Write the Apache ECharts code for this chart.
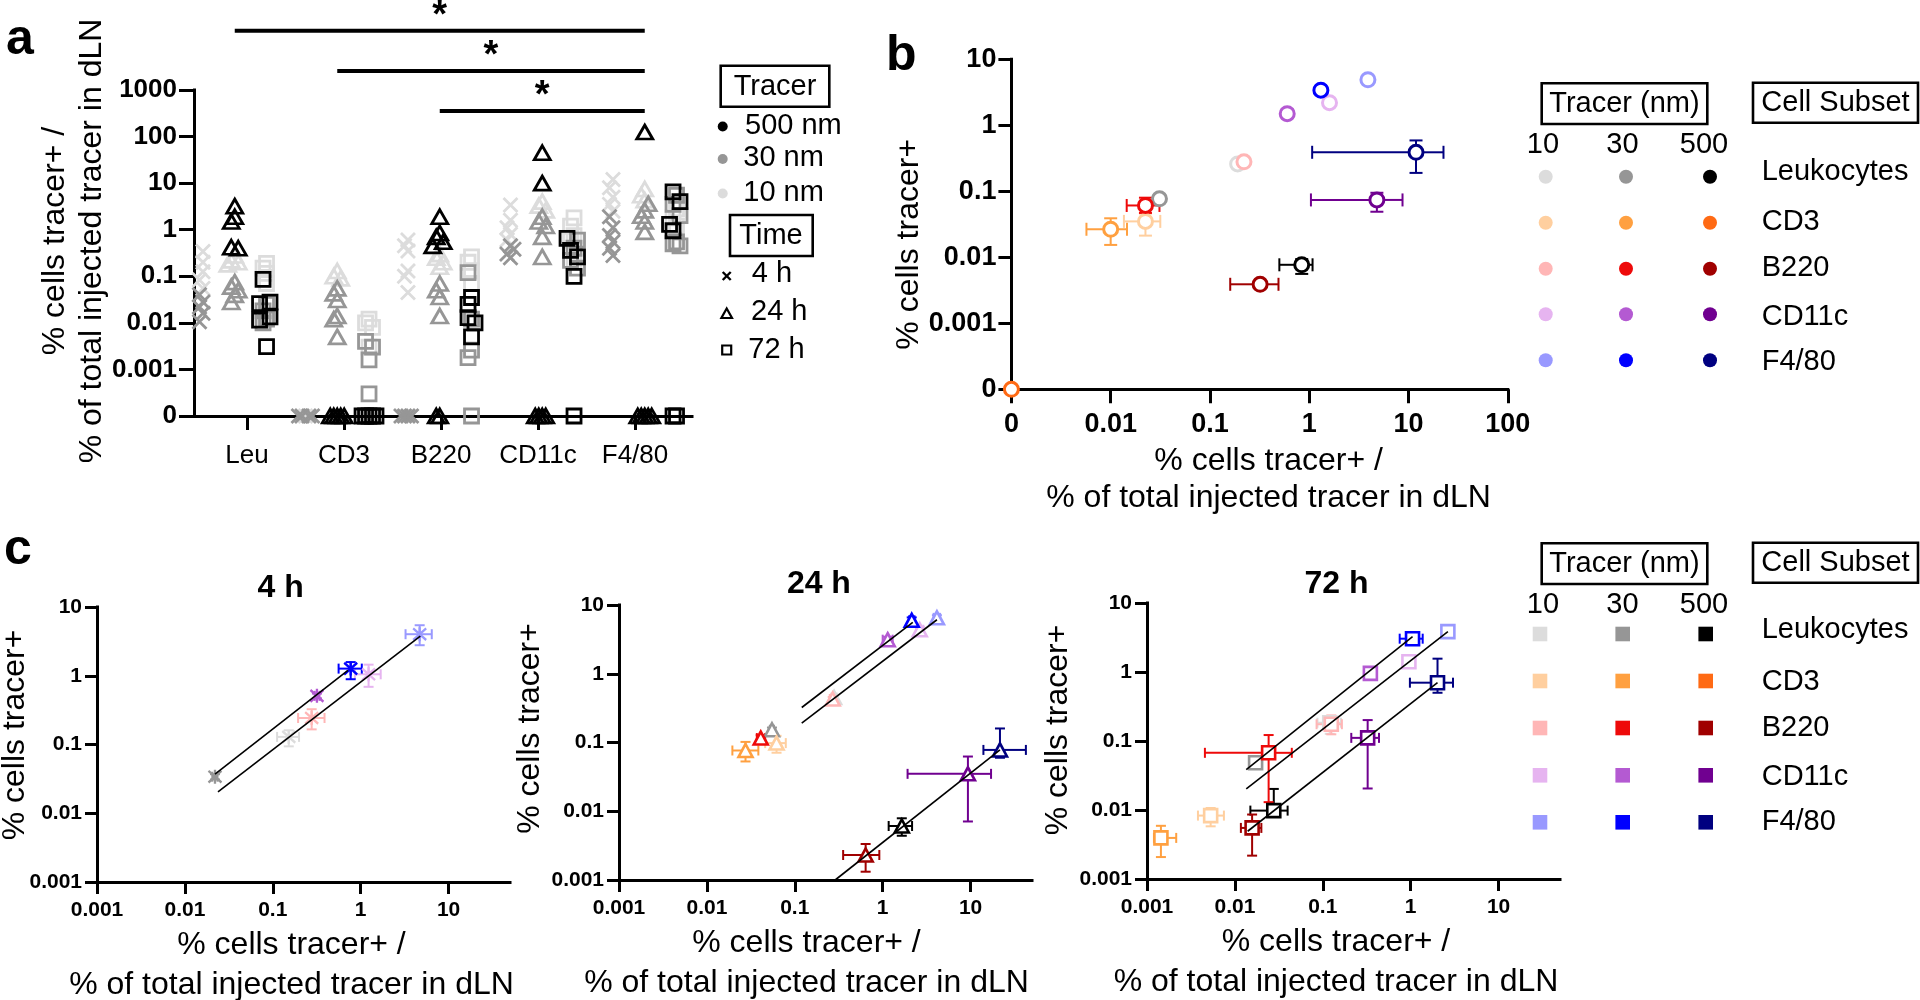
<!DOCTYPE html>
<html><head><meta charset="utf-8">
<script src="https://cdn.jsdelivr.net/npm/echarts@6/dist/echarts.min.js"></script>
<style>html,body{margin:0;padding:0;background:#fff}#chart{width:1920px;height:1000px}</style>
</head><body><div id="chart"></div>
<script>
const FONT = '"Liberation Sans", Arial, Helvetica, sans-serif';

// ---------------- categories / labels ----------------
const subsets = ['Leukocytes', 'CD3', 'B220', 'CD11c', 'F4/80'];
const subsetShort = ['Leu', 'CD3', 'B220', 'CD11c', 'F4/80'];
const tracerSizes = ['10', '30', '500'];
const timeLabels = ['4 h', '24 h', '72 h'];
const legendATracer = ['500 nm', '30 nm', '10 nm'];
const subsetColors = [
  ['#dcdcdc', '#969696', '#000000'],
  ['#ffcf9f', '#ffa040', '#ff6a14'],
  ['#ffb6b6', '#ee0a0a', '#a00000'],
  ['#e6b4f0', '#b45ad2', '#700090'],
  ['#9999ff', '#0000ff', '#000080']
];
const aTracerColors = ['#dcdcdc', '#969696', '#000000']; // 10, 30, 500 nm

// tick labels
const aYTicks = [1e-4, 0.001, 0.01, 0.1, 1, 10, 100, 1000];
const bXTicks = [0.001, 0.01, 0.1, 1, 10, 100];
const bYTicks = [1e-4, 0.001, 0.01, 0.1, 1, 10];
const cTicks = [0.001, 0.01, 0.1, 1, 10];
const A_ZERO = 1e-4, B_XZERO = 0.001, B_YZERO = 1e-4;

// ---------------- panel a: per subset lists (0 = not detected) ----------------
const a4h_10nm   = [[0.34, 0.2, 0.125, 0.083, 0.055], [0], [0.6, 0.45, 0.35, 0.13, 0.1, 0.045], [3.4, 1.6, 1.1, 0.8, 0.6], [12, 8, 5, 3.5, 2.5]];
const a4h_30nm   = [[0.04, 0.028, 0.022, 0.016, 0.0106], [0, 0, 0, 0], [0, 0, 0, 0], [0.45, 0.38, 0.3, 0.25], [1.9, 1.1, 0.75, 0.55, 0.4, 0.28]];
const a4h_500nm  = [[], [], [], [], []];
const a24h_10nm  = [[0.28, 0.22, 0.2, 0.18], [0.13, 0.1, 0.09], [0.3, 0.25, 0.2, 0.16], [4, 3.3, 2.6], [7.5, 5.5, 4.3]];
const a24h_30nm  = [[0.075, 0.06, 0.05, 0.04, 0.028], [0.055, 0.043, 0.031, 0.014, 0.012, 0.005], [0.07, 0.05, 0.036, 0.014], [1.9, 1.5, 1.2, 0.7, 0.26], [3.6, 2.6, 2.0, 1.5, 0.9]];
const a24h_500nm = [[3.2, 1.9, 1.5, 0.42, 0.4], [0, 0, 0, 0, 0], [1.9, 0.85, 0.7, 0.55, 0.45, 0, 0], [45, 10, 0, 0, 0, 0], [125, 0, 0, 0, 0, 0]];
const a72h_10nm  = [[0.19, 0.15, 0.115, 0.07], [0.012, 0.01, 0.008, 0.003], [0.26, 0.2, 0.13, 0.07], [1.8, 1.2, 0.75, 0.6, 0.2], [2.8, 1.8, 1.2]];
const a72h_30nm  = [[0.025, 0.018, 0.012, 0.01], [0.004, 0.003, 0.0016, 0.0003], [0.12, 0.012, 0.0026, 0.0018, 0], [0.6, 0.4, 0.22, 0.15], [5.5, 3.5, 2, 0.55, 0.5, 0.45]];
const a72h_500nm = [[0.086, 0.028, 0.026, 0.0135, 0.0115, 0.0031], [0, 0, 0, 0, 0], [0.035, 0.025, 0.013, 0.01, 0.005], [0.65, 0.36, 0.26, 0.1, 0], [6.5, 4, 1.3, 0.95, 0, 0]];
const aSignif = [['Leu', 'F4/80', '*'], ['CD3', 'F4/80', '*'], ['B220', 'F4/80', '*']];

// ---------------- panel b: rows = 10, 30, 500 nm: [x, y, xlo, xhi, ylo, yhi] ----------------
const b_Leukocytes = [[0.19, 0.26, 0.175, 0.205, 0.235, 0.285], [0.031, 0.077, 0.029, 0.033, 0.07, 0.085], [0.84, 0.0077, 0.5, 1.08, 0.0056, 0.0094]];
const b_CD3        = [[0.0224, 0.035, 0.0136, 0.0316, 0.0213, 0.046], [0.01, 0.0266, 0.0057, 0.0146, 0.0154, 0.039], [0, 0, 0, 0, 0, 0]];
const b_B220       = [[0.22, 0.28, 0.205, 0.235, 0.255, 0.305], [0.0224, 0.061, 0.0145, 0.031, 0.047, 0.08], [0.32, 0.0039, 0.16, 0.49, 0.0035, 0.0044]];
const b_CD11c      = [[1.6, 2.2, 1.5, 1.7, 1.95, 2.5], [0.6, 1.5, 0.55, 0.65, 1.3, 1.75], [4.8, 0.074, 1.04, 8.7, 0.049, 0.095]];
const b_F480       = [[3.9, 4.9, 3.7, 4.1, 4.4, 5.4], [1.31, 3.4, 1.22, 1.4, 3.0, 3.9], [11.9, 0.39, 1.07, 22.5, 0.19, 0.59]];

// ---------------- panel c ----------------
const c4h_Leukocytes = [[0.152, 0.129, 0.112, 0.199, 0.094, 0.161], [0.022, 0.034, 0.0205, 0.0235, 0.031, 0.037], null];
const c4h_CD3        = [null, null, null];
const c4h_B220       = [[0.277, 0.243, 0.194, 0.388, 0.166, 0.326], null, null];
const c4h_CD11c      = [[1.23, 1.05, 0.86, 1.69, 0.69, 1.45], [0.318, 0.51, 0.3, 0.34, 0.47, 0.55], null];
const c4h_F480       = [[4.69, 4.02, 3.24, 6.44, 2.78, 5.43], [0.77, 1.27, 0.561, 1.03, 0.89, 1.58], null];
const c4h_fits       = [[[0.022, 0.037], [0.716, 1.2]], [[0.0238, 0.0204], [4.77, 3.76]]];

const c24h_Leukocytes = [[0.28, 0.45, 0.26, 0.3, 0.42, 0.48], [0.055, 0.153, 0.052, 0.058, 0.14, 0.165], [1.65, 0.0061, 1.17, 2.16, 0.0044, 0.0079]];
const c24h_CD3        = [[0.062, 0.098, 0.046, 0.079, 0.071, 0.125], [0.0275, 0.0765, 0.0195, 0.0385, 0.053, 0.102], null];
const c24h_B220       = [[0.27, 0.43, 0.25, 0.29, 0.4, 0.46], [0.041, 0.116, 0.037, 0.046, 0.105, 0.128], [0.64, 0.00231, 0.355, 0.916, 0.00132, 0.00334]];
const c24h_CD11c      = [[2.64, 4.37, 2.4, 2.9, 4.0, 4.8], [1.14, 3.13, 1.0, 1.3, 2.85, 3.45], [9.33, 0.035, 1.92, 17.1, 0.0071, 0.0625]];
const c24h_F480       = [[4.14, 6.5, 3.8, 4.5, 5.9, 7.1], [2.14, 5.98, 2.0, 2.3, 5.4, 6.6], [21.6, 0.078, 14.0, 42.6, 0.06, 0.16]];
const c24h_fits       = [[[0.12, 0.323], [2.2, 5.6]], [[0.12, 0.191], [4.14, 6.1]], [[0.288, 0.001], [21.6, 0.078]]];

const c72h_Leukocytes = [[0.12, 0.184, 0.087, 0.161, 0.127, 0.23], [0.0172, 0.0483, 0.016, 0.0185, 0.044, 0.053], [0.0277, 0.0098, 0.015, 0.0398, 0.0098, 0.0202]];
const c72h_CD3        = [[0.0053, 0.0083, 0.0038, 0.0075, 0.0058, 0.0107], [0.00144, 0.00394, 0.0012, 0.00215, 0.00208, 0.0059], null];
const c72h_B220       = [[0.125, 0.175, 0.085, 0.165, 0.125, 0.235], [0.0242, 0.0674, 0.00456, 0.0444, 0.013, 0.122], [0.0157, 0.0055, 0.0117, 0.02, 0.00218, 0.0086]];
const c72h_CD11c      = [[0.955, 1.41, 0.9, 1.02, 1.3, 1.55], [0.348, 0.955, 0.32, 0.38, 0.88, 1.05], [0.324, 0.111, 0.211, 0.436, 0.0205, 0.201]];
const c72h_F480       = [[2.65, 3.85, 2.45, 2.9, 3.5, 4.2], [1.05, 3.04, 0.75, 1.37, 2.5, 3.6], [2.02, 0.7, 0.98, 3.03, 0.5, 1.56]];
const c72h_fits       = [[[0.01347, 0.0386], [1.05, 3.25]], [[0.01347, 0.0202], [2.65, 3.85]], [[0.01397, 0.00492], [2.02, 0.7]]];

// ---------------- helpers ----------------
const P_X = 'path://M0,0L10,10M10,0L0,10';
const P_AST = 'path://M1,1L11,11M11,1L1,11M6,0L6,12';

function fmtTick(v, zeroVal) {
  if (zeroVal && Math.abs(v - zeroVal) < zeroVal * 1e-6) return '0';
  return String(+Number(v).toPrecision(6));
}
function logAxis(gridIndex, min, max, ticks, zeroVal, fontSize, margin, tickLen, extra) {
  return Object.assign({
    type: 'log', logBase: 10, gridIndex, min, max, nameMoveOverlap: false,
    axisLine: {show: true, onZero: false, lineStyle: {color: '#000', width: 3, cap: 'square'}},
    axisTick: {show: true, inside: false, length: tickLen, lineStyle: {color: '#000', width: 3}, customValues: ticks},
    axisLabel: {show: true, customValues: ticks, margin, color: '#000', fontSize, fontWeight: 'bold', fontFamily: FONT,
      formatter: v => fmtTick(v, zeroVal)},
    splitLine: {show: false}, minorTick: {show: false}, minorSplitLine: {show: false},
    nameTextStyle: {color: '#000', fontFamily: FONT, fontSize: 32}
  }, extra || {});
}

// ---- panel a points with simple beeswarm spreading ----
const aTimeData = [[a4h_10nm, a4h_30nm, a4h_500nm], [a24h_10nm, a24h_30nm, a24h_500nm], [a72h_10nm, a72h_30nm, a72h_500nm]];
const aTimeSymbols = [P_X, 'triangle', 'rect'];
const aTimeSizes = [[14, 14], [16, 14], [14, 14]];
const A_TIME_STEP = 0.31;   // spacing of time groups in category units
const A_JIT = 0.034;        // beeswarm step in category units
const placed = {};
const aSeries = [];
for (let t = 0; t < 3; t++) {
  for (let k = 0; k < 3; k++) {
    const data = [];
    for (let c = 0; c < 5; c++) {
      const key = c + '-' + t;
      const list = placed[key] || (placed[key] = []);
      for (const v of aTimeData[t][k][c]) {
        const ly = v === 0 ? Math.log10(A_ZERO) : Math.log10(v);
        let off = 0;
        for (let n = 0; n < 20; n++) {
          const cand = n === 0 ? 0 : (n % 2 ? -Math.ceil(n / 2) : Math.ceil(n / 2));
          if (!list.some(p => Math.abs(p.ly - ly) < 0.2 && p.o === cand)) { off = cand; break; }
        }
        list.push({ly, o: off});
        data.push([c + (t - 1) * A_TIME_STEP + off * A_JIT, v === 0 ? A_ZERO : v]);
      }
    }
    aSeries.push({
      type: 'scatter', xAxisIndex: 0, yAxisIndex: 0, data, silent: true,
      symbol: aTimeSymbols[t], symbolSize: aTimeSizes[t], z: 3 + t * 3 + k,
      itemStyle: {color: 'none', borderColor: aTracerColors[k], borderWidth: 2.8, opacity: 1}
    });
  }
}

// ---- panels b / c ----
function buildPanel(rowsBySubset, xz, yz) {
  const pts = [], errs = [];
  rowsBySubset.forEach((rows, s) => {
    rows.forEach((r, k) => {
      if (!r) return;
      const fx = v => (v === 0 ? xz : v), fy = v => (v === 0 ? yz : v);
      const x = fx(r[0]), y = fy(r[1]);
      pts.push({value: [x, y], itemStyle: {borderColor: subsetColors[s][k]}});
      errs.push([x, y, fx(r[2]), fx(r[3]), fy(r[4]), fy(r[5]), s, k]);
    });
  });
  return {pts, errs};
}
function makeErrRender(cap, lw) {
  return function (params, api) {
    const x = api.value(0), y = api.value(1);
    const xlo = api.value(2), xhi = api.value(3), ylo = api.value(4), yhi = api.value(5);
    const col = subsetColors[api.value(6)][api.value(7)];
    const p = api.coord([x, y]);
    const ch = [];
    const seg = (x1, y1, x2, y2) => ch.push({type: 'line', shape: {x1, y1, x2, y2}, style: {stroke: col, lineWidth: lw}});
    if (xlo < x) { const q = api.coord([xlo, y]); seg(q[0], p[1], p[0], p[1]); seg(q[0], p[1] - cap, q[0], p[1] + cap); }
    if (xhi > x) { const q = api.coord([xhi, y]); seg(p[0], p[1], q[0], p[1]); seg(q[0], p[1] - cap, q[0], p[1] + cap); }
    if (ylo < y) { const q = api.coord([x, ylo]); seg(p[0], p[1], p[0], q[1]); seg(p[0] - cap, q[1], p[0] + cap, q[1]); }
    if (yhi > y) { const q = api.coord([x, yhi]); seg(p[0], p[1], p[0], q[1]); seg(p[0] - cap, q[1], p[0] + cap, q[1]); }
    return {type: 'group', children: ch};
  };
}
function panelSeries(axisIdx, built, symbol, size, bw, cap, fill) {
  return [
    {type: 'custom', xAxisIndex: axisIdx, yAxisIndex: axisIdx, data: built.errs, renderItem: makeErrRender(cap, 2),
      encode: {x: 0, y: 1}, silent: true, z: 2, clip: false},
    {type: 'scatter', xAxisIndex: axisIdx, yAxisIndex: axisIdx, data: built.pts, symbol, symbolSize: size, silent: true, z: 3,
      itemStyle: {color: fill, borderWidth: bw, opacity: 1}}
  ];
}
function fitSeries(axisIdx, fits) {
  return fits.map(f => ({type: 'line', xAxisIndex: axisIdx, yAxisIndex: axisIdx, data: f, symbol: 'none', silent: true, z: 5,
    lineStyle: {color: '#000', width: 1.6}}));
}

const bBuilt = buildPanel([b_Leukocytes, b_CD3, b_B220, b_CD11c, b_F480], B_XZERO, B_YZERO);
const c4Built = buildPanel([c4h_Leukocytes, c4h_CD3, c4h_B220, c4h_CD11c, c4h_F480]);
const c24Built = buildPanel([c24h_Leukocytes, c24h_CD3, c24h_B220, c24h_CD11c, c24h_F480]);
const c72Built = buildPanel([c72h_Leukocytes, c72h_CD3, c72h_B220, c72h_CD11c, c72h_F480]);

// significance bars (panel a)
const SIG_OFFSETS = [-59.3, -19, 21];
const sigSeries = {
  type: 'custom', xAxisIndex: 0, yAxisIndex: 0, silent: true, clip: false, z: 10,
  data: aSignif.map(d => [subsetShort.indexOf(d[0]), subsetShort.indexOf(d[1]), 1]),
  encode: {x: [0, 1], y: 2},
  renderItem: (params, api) => {
    const x1 = api.coord([api.value(0), 1])[0], x2 = api.coord([api.value(1), 1])[0];
    const y = params.coordSys.y + SIG_OFFSETS[params.dataIndex];
    return {type: 'group', children: [
      {type: 'line', shape: {x1, y1: y, x2, y2: y}, style: {stroke: '#000', lineWidth: 4}},
      {type: 'text', x: (x1 + x2) / 2, y: y - 14, style: {text: aSignif[params.dataIndex][2], fill: '#000',
        fontSize: 38, fontWeight: 'bold', fontFamily: FONT, align: 'center', verticalAlign: 'middle'}}
    ]};
  }
};

// ---------------- graphics (legends, panel letters, titles) ----------------
const G = [];
const txt = (x, y, text, size, align, weight) => G.push({type: 'text', x, y, silent: true,
  style: {text, fill: '#000', fontSize: size, fontWeight: weight || 'normal', fontFamily: FONT, align: align || 'left', verticalAlign: 'middle'}});
const box = (x, y, w, h) => G.push({type: 'rect', silent: true, shape: {x, y, width: w, height: h}, style: {fill: 'none', stroke: '#000', lineWidth: 2.6}});

txt(6, 40, 'a', 50, 'left', 'bold');
txt(886, 56, 'b', 50, 'left', 'bold');
txt(4, 550, 'c', 50, 'left', 'bold');

// panel a legend
box(720.7, 65.7, 108.6, 41); txt(775, 86.5, 'Tracer', 29, 'center');
const aLegY = [125.5, 158, 192.5];
legendATracer.forEach((t, i) => {
  G.push({type: 'circle', silent: true, shape: {cx: 722.7, cy: aLegY[i] + 1, r: 5}, style: {fill: ['#000', '#969696', '#dcdcdc'][i]}});
  txt(i === 0 ? 745 : 743.3, aLegY[i], t, 29);
});
box(730, 215, 82.7, 41); txt(771, 236, 'Time', 29, 'center');
const tLegY = [274, 311.5, 349.5], tLegX = [751.7, 751, 748.3];
G.push({type: 'polyline', silent: true, shape: {points: [[722.7, 272], [730.7, 280]]}, style: {stroke: '#000', lineWidth: 2.4}});
G.push({type: 'polyline', silent: true, shape: {points: [[730.7, 272], [722.7, 280]]}, style: {stroke: '#000', lineWidth: 2.4}});
G.push({type: 'polygon', silent: true, shape: {points: [[726.7, 308.5], [732, 318], [721.4, 318]]}, style: {fill: 'none', stroke: '#000', lineWidth: 2.2}});
G.push({type: 'rect', silent: true, shape: {x: 722.2, y: 345.5, width: 9, height: 9}, style: {fill: 'none', stroke: '#000', lineWidth: 2.2}});
timeLabels.forEach((t, i) => txt(tLegX[i], tLegY[i], t, 29));

// panel b / c legends
function colorLegend(top, square) {
  box(1541.7, top, 165.6, 40.7); txt(1624.5, top + 21, 'Tracer (nm)', 29, 'center');
  box(1753, top - 0.6, 165, 40); txt(1835.5, top + 20, 'Cell Subset', 29, 'center');
  const colLbl = [1543, 1622.5, 1704], colDot = square ? [1540, 1622.7, 1705.7] : [1545.7, 1626, 1710];
  const rowDot = square ? [634, 681, 728, 775.3, 822.3] : [176.7, 222.7, 268.7, 314.3, 360.3];
  const rowLbl = square ? [630, 681.7, 728, 776.7, 821.7] : [171.7, 221.7, 268, 316.7, 361.7];
  const lblY = square ? 605 : 145;
  tracerSizes.forEach((t, k) => txt(colLbl[k], lblY, t, 29, 'center'));
  subsets.forEach((s, si) => {
    txt(1761.7, rowLbl[si], s, 29);
    tracerSizes.forEach((t, k) => {
      if (square) G.push({type: 'rect', silent: true, shape: {x: colDot[k] - 7.3, y: rowDot[si] - 7.3, width: 14.6, height: 14.6}, style: {fill: subsetColors[si][k]}});
      else G.push({type: 'circle', silent: true, shape: {cx: colDot[k], cy: rowDot[si], r: 7}, style: {fill: subsetColors[si][k]}});
    });
  });
}
colorLegend(83.3, false);
colorLegend(543.3, true);

// panel c titles
txt(280.6, 588, timeLabels[0], 32, 'center', 'bold');
txt(818.9, 584, timeLabels[1], 32, 'center', 'bold');
txt(1336.5, 584, timeLabels[2], 32, 'center', 'bold');

// ---------------- option ----------------
const TITLE2 = '% cells tracer+ /\n% of total injected tracer in dLN';
const nameStyle = (pad, lh) => ({color: '#000', fontFamily: FONT, fontSize: 32, lineHeight: lh || 32, padding: pad || 0});

const option = {
  animation: false,
  backgroundColor: '#fff',
  textStyle: {fontFamily: FONT},
  grid: [
    {left: 194, top: 90, width: 498, height: 326, outerBoundsMode: 'none'},
    {left: 198.5, top: 90, width: 485, height: 326, outerBoundsMode: 'none'},
    {left: 1011.4, top: 59.3, width: 496.4, height: 330, outerBoundsMode: 'none'},
    {left: 97, top: 607, width: 413, height: 275, outerBoundsMode: 'none'},
    {left: 619, top: 605, width: 413, height: 275, outerBoundsMode: 'none'},
    {left: 1147, top: 603, width: 413, height: 276, outerBoundsMode: 'none'}
  ],
  xAxis: [
    {type: 'value', gridIndex: 0, min: -0.3976, max: 4.461,
      axisLine: {show: true, onZero: false, lineStyle: {color: '#000', width: 3, cap: 'square'}},
      axisTick: {show: false}, axisLabel: {show: false}, splitLine: {show: false}},
    {type: 'category', gridIndex: 1, data: subsetShort, boundaryGap: true,
      axisLine: {show: false}, axisTick: {show: true, alignWithLabel: true, length: 14, lineStyle: {color: '#000', width: 3}},
      axisLabel: {margin: 27, fontSize: 26, color: '#000', fontFamily: FONT, interval: 0}, splitLine: {show: false}},
    logAxis(2, 0.001, 100, bXTicks, B_XZERO, 27, 22, 14,
      {name: TITLE2, nameLocation: 'middle', nameGap: 53, nameTextStyle: nameStyle([0, 0, 0, 18], 37)}),
    logAxis(3, 0.001, 50, cTicks, null, 21, 18, 12,
      {name: TITLE2, nameLocation: 'middle', nameGap: 43, nameTextStyle: nameStyle([0, 24, 0, 0], 40)}),
    logAxis(4, 0.001, 50, cTicks, null, 21, 18, 12,
      {name: TITLE2, nameLocation: 'middle', nameGap: 43, nameTextStyle: nameStyle([0, 38, 0, 0], 40)}),
    logAxis(5, 0.001, 50, cTicks, null, 21, 18, 12,
      {name: TITLE2, nameLocation: 'middle', nameGap: 43, nameTextStyle: nameStyle([0, 35, 0, 0], 40)})
  ],
  yAxis: [
    logAxis(0, A_ZERO, 1000, aYTicks, A_ZERO, 26, 17, 15,
      {name: TITLE2, nameLocation: 'middle', nameRotate: 90, nameGap: 83, nameTextStyle: nameStyle([0, 0, 0, 24], 37)}),
    {type: 'value', gridIndex: 1, show: false},
    logAxis(2, B_YZERO, 10, bYTicks, B_YZERO, 27, 15, 13,
      {name: '% cells tracer+', nameLocation: 'middle', nameRotate: 90, nameGap: 86, nameTextStyle: nameStyle([0, 40, 0, 0])}),
    logAxis(3, 0.001, 10, cTicks, null, 21, 15, 12,
      {name: '% cells tracer+', nameLocation: 'middle', nameRotate: 90, nameGap: 66, nameTextStyle: nameStyle([0, 0, 0, 19])}),
    logAxis(4, 0.001, 10, cTicks, null, 21, 15, 12,
      {name: '% cells tracer+', nameLocation: 'middle', nameRotate: 90, nameGap: 73, nameTextStyle: nameStyle([0, 0, 0, 28])}),
    logAxis(5, 0.001, 10, cTicks, null, 21, 15, 12,
      {name: '% cells tracer+', nameLocation: 'middle', nameRotate: 90, nameGap: 73, nameTextStyle: nameStyle([0, 0, 0, 22])})
  ],
  series: [].concat(
    aSeries,
    [sigSeries],
    panelSeries(2, bBuilt, 'circle', 14, 3, 6.5, '#fff'),
    panelSeries(3, c4Built, P_AST, [13, 14], 2.4, 5, 'none'),
    panelSeries(4, c24Built, 'triangle', [14, 13], 2.6, 5, '#fff'),
    panelSeries(5, c72Built, 'rect', 13, 2.6, 5, '#fff'),
    fitSeries(3, c4h_fits), fitSeries(4, c24h_fits), fitSeries(5, c72h_fits)
  ),
  graphic: {elements: G}
};

const chart = echarts.init(document.getElementById('chart'), null, {renderer: 'canvas', width: 1920, height: 1000});
chart.setOption(option);
</script>
</body></html>
